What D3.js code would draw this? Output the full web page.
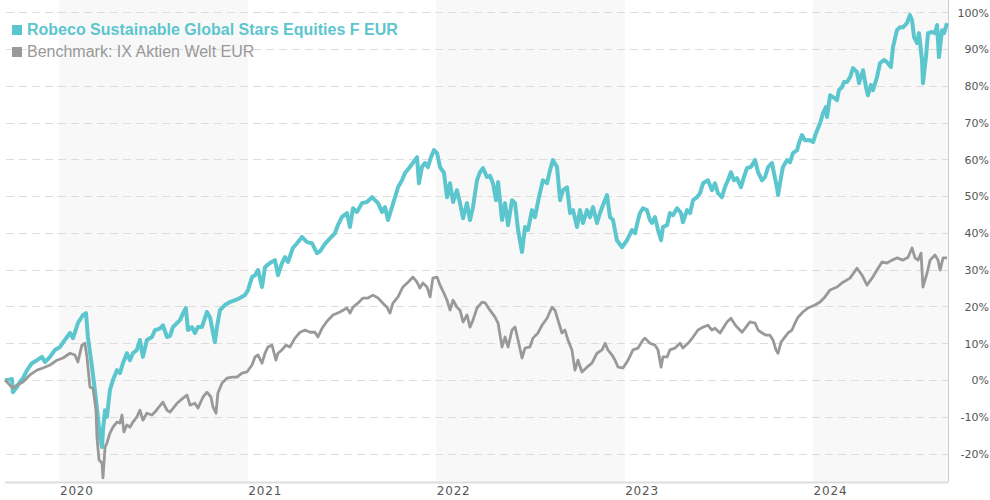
<!DOCTYPE html>
<html><head><meta charset="utf-8">
<script src="https://cdn.jsdelivr.net/npm/d3@7"></script>
<style>html,body{margin:0;padding:0;background:#fff;} svg{display:block;}</style>
</head><body><svg id="chart" width="990" height="500"></svg>
<script>
// ---- data ----
const seriesNames = ["Robeco Sustainable Global Stars Equities F EUR", "Benchmark: IX Aktien Welt EUR"];
const yearTicks = [2020, 2021, 2022, 2023, 2024];
const yearLabels = ["2020", "2021", "2022", "2023", "2024"];
const shadedYears = [2020, 2022, 2024];
const yTicks = [-20, -10, 0, 10, 20, 30, 40, 50, 60, 70, 80, 90, 100];
const timeDomain = [2019.711, 2024.716];
const valueDomain = [-27.7, 103.3];

// time in decimal years
const fundTime = [2019.711,2019.721,2019.748,2019.753,2019.774,2019.790,2019.806,2019.828,2019.854,2019.881,
2019.907,2019.923,2019.950,2019.976,2020.003,2020.029,2020.056,2020.072,2020.098,2020.125,
2020.141,2020.151,2020.173,2020.188,2020.204,2020.215,2020.226,2020.231,2020.242,2020.252,
2020.268,2020.284,2020.305,2020.321,2020.337,2020.358,2020.374,2020.390,2020.411,2020.427,
2020.443,2020.464,2020.491,2020.507,2020.533,2020.549,2020.571,2020.587,2020.602,2020.624,
2020.640,2020.656,2020.671,2020.682,2020.703,2020.719,2020.735,2020.756,2020.783,2020.799,
2020.815,2020.825,2020.836,2020.852,2020.878,2020.905,2020.932,2020.958,2020.985,2021.001,
2021.022,2021.038,2021.054,2021.075,2021.091,2021.117,2021.144,2021.160,2021.181,2021.197,
2021.213,2021.239,2021.261,2021.287,2021.314,2021.340,2021.367,2021.383,2021.409,2021.436,
2021.462,2021.478,2021.499,2021.526,2021.542,2021.558,2021.579,2021.606,2021.632,2021.659,
2021.675,2021.691,2021.712,2021.728,2021.744,2021.765,2021.781,2021.797,2021.818,2021.834,
2021.860,2021.887,2021.898,2021.908,2021.924,2021.940,2021.956,2021.972,2021.988,2022.004,
2022.020,2022.041,2022.057,2022.073,2022.089,2022.110,2022.126,2022.142,2022.163,2022.179,
2022.195,2022.216,2022.232,2022.248,2022.269,2022.285,2022.301,2022.317,2022.328,2022.349,
2022.365,2022.381,2022.402,2022.418,2022.434,2022.455,2022.471,2022.487,2022.508,2022.524,
2022.545,2022.566,2022.588,2022.604,2022.619,2022.641,2022.657,2022.673,2022.694,2022.710,
2022.726,2022.747,2022.763,2022.779,2022.800,2022.816,2022.832,2022.853,2022.869,2022.885,
2022.906,2022.922,2022.938,2022.959,2022.986,2023.012,2023.039,2023.055,2023.071,2023.081,
2023.097,2023.118,2023.134,2023.145,2023.161,2023.177,2023.193,2023.203,2023.225,2023.240,
2023.256,2023.278,2023.299,2023.309,2023.331,2023.347,2023.363,2023.384,2023.400,2023.416,
2023.442,2023.463,2023.479,2023.495,2023.516,2023.532,2023.548,2023.564,2023.580,2023.596,
2023.617,2023.633,2023.649,2023.670,2023.692,2023.708,2023.729,2023.745,2023.761,2023.782,
2023.792,2023.808,2023.814,2023.830,2023.840,2023.862,2023.877,2023.893,2023.915,2023.925,
2023.941,2023.957,2023.984,2024.000,2024.015,2024.037,2024.053,2024.068,2024.074,2024.090,
2024.106,2024.127,2024.137,2024.153,2024.164,2024.180,2024.196,2024.212,2024.233,2024.244,
2024.265,2024.281,2024.291,2024.307,2024.318,2024.339,2024.355,2024.376,2024.392,2024.413,
2024.424,2024.445,2024.461,2024.477,2024.498,2024.514,2024.525,2024.536,2024.552,2024.562,
2024.578,2024.583,2024.599,2024.610,2024.631,2024.647,2024.658,2024.668,2024.684,2024.695,
2024.711];
const fundValues = [0,0.0,0.3,-3.3,-1.9,-0.5,0.5,2.7,4.6,5.4,
6.3,4.9,6.3,8.2,9.0,10.9,12.8,11.4,15.5,17.7,
18.2,11.7,3.5,-2.7,-10,-15.5,-18.2,-13.6,-8.2,-10,
-2.7,0,2.7,1.9,4.6,7.3,5.4,7.3,8.2,10.9,
6.3,10.9,11.7,13.6,14.0,14.9,11.7,12.0,14.4,15.5,
16.3,18.2,19.6,13.6,14.4,12.8,14.4,14.4,18.5,17.1,
12.8,10.3,14.4,19.0,20.4,21.2,21.7,22.3,23.1,24.5,
28.0,28.5,29.9,25.3,30.7,31.8,32.6,28.5,31.8,33.4,
32.1,35.9,37.2,38.9,37.5,37.2,34.5,35.0,37.0,38.5,
39.9,42.1,44.3,45.4,41.6,46.7,45.7,48.1,48.4,49.7,
48.9,48.1,45.7,47.0,43.5,47.0,49.7,52.4,54.3,56.3,
57.9,59.8,60.6,53.5,57.9,59.0,57.9,60.6,62.5,61.7,
57.9,56.3,49.7,53.5,48.4,51.6,48.1,44.0,48.1,43.5,
47.0,54.3,56.5,57.6,55.2,55.5,53.5,48.9,53.8,43.5,
48.1,42.1,48.9,48.1,40.8,34.8,41.6,40.8,46.2,44.3,
49.7,54.3,53.5,57.1,59.8,57.9,48.9,51.6,52.4,45.4,
46.2,41.6,46.2,42.7,46.2,44.3,47.0,42.7,45.4,47.6,
50.3,44.3,43.5,38.0,36.1,38.0,40.8,39.9,43.5,45.4,
46.7,46.2,43.5,42.7,44.3,40.8,38.0,41.6,42.1,45.4,
44.8,46.7,45.4,42.9,46.2,45.4,48.9,49.7,50.8,53.5,
54.3,51.6,53.5,50.8,49.7,52.4,54.3,56.5,54.3,54.9,
52.4,55.2,57.6,57.9,59.8,56.5,54.3,55.2,57.9,59.0,
56.3,52.4,50.3,55.2,57.9,59.8,59.2,61.7,62.5,64.4,
66.6,65.2,65.2,64.7,67.1,69.8,72.6,74.2,71.5,77.4,
76.9,76.1,78.8,79.6,81.0,81.0,82.3,84.8,83.7,80.7,
84.2,79.6,77.4,80.2,78.8,82.3,86.1,87.0,86.4,85.1,
90.5,95.1,95.9,95.9,97.0,99.2,97.8,93.2,91.6,94.3,
87.0,80.7,87.8,94.3,94.6,94.3,96.5,87.8,95.1,94.3,
97.0];

const benchTime = [2019.711,2019.753,2019.774,2019.806,2019.843,2019.881,2019.912,2019.950,2019.987,2020.019,
2020.056,2020.082,2020.098,2020.119,2020.135,2020.146,2020.162,2020.178,2020.194,2020.199,
2020.210,2020.226,2020.231,2020.242,2020.252,2020.268,2020.284,2020.305,2020.321,2020.332,
2020.342,2020.358,2020.374,2020.390,2020.411,2020.427,2020.443,2020.464,2020.491,2020.507,
2020.523,2020.533,2020.549,2020.571,2020.587,2020.624,2020.656,2020.677,2020.693,2020.719,
2020.735,2020.762,2020.783,2020.804,2020.815,2020.831,2020.841,2020.863,2020.889,2020.916,
2020.942,2020.969,2020.995,2021.022,2021.038,2021.054,2021.075,2021.091,2021.107,2021.128,
2021.149,2021.160,2021.181,2021.202,2021.223,2021.250,2021.277,2021.303,2021.330,2021.356,
2021.372,2021.393,2021.420,2021.452,2021.489,2021.526,2021.542,2021.558,2021.584,2021.611,
2021.637,2021.664,2021.691,2021.717,2021.738,2021.754,2021.770,2021.797,2021.823,2021.850,
2021.876,2021.898,2021.913,2021.929,2021.951,2021.967,2021.982,2022.004,2022.020,2022.041,
2022.057,2022.073,2022.089,2022.110,2022.126,2022.142,2022.163,2022.179,2022.195,2022.216,
2022.243,2022.259,2022.285,2022.312,2022.328,2022.349,2022.365,2022.381,2022.402,2022.418,
2022.434,2022.455,2022.471,2022.497,2022.513,2022.540,2022.561,2022.588,2022.614,2022.630,
2022.646,2022.667,2022.683,2022.699,2022.720,2022.736,2022.752,2022.773,2022.800,2022.826,
2022.853,2022.880,2022.896,2022.911,2022.933,2022.949,2022.965,2022.991,2023.018,2023.044,
2023.071,2023.097,2023.108,2023.134,2023.161,2023.177,2023.193,2023.203,2023.225,2023.240,
2023.267,2023.294,2023.309,2023.336,2023.363,2023.389,2023.416,2023.442,2023.463,2023.479,
2023.506,2023.522,2023.543,2023.564,2023.580,2023.596,2023.623,2023.644,2023.665,2023.692,
2023.708,2023.729,2023.750,2023.771,2023.787,2023.803,2023.814,2023.830,2023.846,2023.867,
2023.888,2023.904,2023.920,2023.946,2023.973,2024.010,2024.037,2024.063,2024.090,2024.127,
2024.159,2024.196,2024.233,2024.260,2024.286,2024.313,2024.339,2024.366,2024.392,2024.419,
2024.445,2024.477,2024.504,2024.525,2024.541,2024.557,2024.573,2024.583,2024.605,2024.621,
2024.647,2024.663,2024.674,2024.690,2024.711];
const benchValues = [0,-2.2,-1.4,-0.5,1.4,2.7,3.3,4.1,5.4,6.0,
7.3,6.8,4.9,9.5,10.0,6.3,-1.9,-2.2,-8.2,-15.5,
-21.7,-22.6,-26.6,-18.2,-17.1,-14.4,-12.8,-11.4,-11.7,-9.5,
-14.1,-12.2,-12.8,-11.4,-10.0,-8.2,-10.9,-9.0,-9.5,-8.7,
-7.6,-7.0,-6.0,-8.2,-8.7,-6.3,-4.9,-4.1,-6.8,-6.3,
-7.6,-4.6,-3.3,-4.6,-7.3,-9.0,-3.5,-0.8,0.5,0.8,
0.8,1.9,2.2,4.1,6.3,6.8,4.6,7.3,9.0,9.5,
5.4,7.3,8.2,9.5,9.0,11.4,13.0,13.6,13.0,13.0,
11.7,14.0,16.0,17.7,18.5,19.6,18.2,19.8,20.9,22.3,
22.3,23.1,22.3,20.9,19.8,18.2,20.9,22.6,25.3,26.6,
28.0,26.6,25.0,26.4,25.3,22.6,27.7,28.0,25.8,23.6,
21.7,19.0,21.7,19.8,19.0,15.8,17.7,14.4,16.3,19.6,
21.2,21.0,19.0,17.1,15.5,9.0,11.7,9.0,13.6,14.4,
10.9,6.0,8.7,9.0,11.4,12.8,14.9,16.8,19.8,19.0,
16.3,12.8,13.6,10.9,8.2,2.7,5.4,2.2,3.5,4.6,
7.3,8.2,10.0,8.2,6.8,5.4,3.5,3.3,5.4,8.2,
8.7,10.9,11.4,10.0,9.5,8.2,3.5,6.3,6.3,8.2,
8.7,10.0,8.7,10.0,11.7,13.6,14.4,14.9,13.6,14.1,
12.8,14.1,15.8,16.8,15.5,14.4,13.0,14.4,15.8,15.5,
13.6,12.8,12.2,12.2,10.9,8.2,7.3,10.3,11.4,12.8,
13.6,15.5,17.1,18.5,19.6,20.4,21.2,22.6,24.5,25.3,
26.6,27.7,30.4,28.5,25.8,27.7,29.9,32.1,31.8,32.6,
33.2,32.6,33.4,35.9,33.2,32.6,34.5,25.3,29.1,32.6,
34.0,32.6,29.9,33.2,33.2];

// ---- chart ----
const fundColor = "#5cc6ce", benchColor = "#999999";
const svg = d3.select("#chart");
const plotLeft = 5, plotRight = 948, plotTop = 0, plotBottom = 482;
const x = d3.scaleLinear().domain(timeDomain).range([plotLeft, plotRight]);
const y = d3.scaleLinear().domain(valueDomain).range([plotBottom, plotTop]);

// shaded alternate years
svg.append("g").selectAll("rect").data(shadedYears).join("rect")
  .attr("x", d => x(Math.max(d, timeDomain[0])))
  .attr("width", d => x(Math.min(d + 1, timeDomain[1])) - x(Math.max(d, timeDomain[0])))
  .attr("y", plotTop).attr("height", plotBottom - plotTop)
  .attr("fill", "#f8f8f8");

// gridlines
svg.append("g").selectAll("line").data(yTicks).join("line")
  .attr("x1", plotLeft + 1).attr("x2", plotRight)
  .attr("y1", d => Math.round(y(d)) + 0.5).attr("y2", d => Math.round(y(d)) + 0.5)
  .attr("stroke", "#dddddd").attr("stroke-width", 1).attr("stroke-dasharray", "8,5");

// y axis on the right
const yAxis = svg.append("g").attr("transform", `translate(${plotRight},0)`)
  .call(d3.axisRight(y).tickValues(yTicks).tickSize(0).tickFormat(d => d + "%"));
yAxis.select(".domain").remove();
yAxis.selectAll("text")
  .attr("x", 989 - plotRight).attr("text-anchor", "end").attr("dy", "0.35em")
  .attr("fill", "#555").style("font-family", "'DejaVu Sans', Verdana, sans-serif").style("font-size", "11px");

svg.append("line").attr("x1", plotRight + 0.5).attr("x2", plotRight + 0.5).attr("y1", plotTop).attr("y2", plotBottom)
  .attr("stroke", "#cccccc").attr("stroke-width", 1);

// x axis
const xAxis = svg.append("g").attr("transform", `translate(0,${plotBottom})`)
  .call(d3.axisBottom(x).tickValues(yearTicks).tickSize(0).tickFormat((d, i) => yearLabels[i]));
xAxis.select(".domain").remove();
xAxis.selectAll("text")
  .attr("text-anchor", "start").attr("y", 4)
  .attr("fill", "#555").style("font-family", "'DejaVu Sans', Verdana, sans-serif").style("font-size", "12px")
  .style("letter-spacing", "0.8px");
svg.append("line").attr("x1", plotLeft).attr("x2", plotRight).attr("y1", plotBottom + 0.5).attr("y2", plotBottom + 0.5)
  .attr("stroke", "#dddddd").attr("stroke-width", 2);

// lines
const line = d3.line().x(d => x(d[0])).y(d => y(d[1]));
svg.append("path").datum(d3.zip(fundTime, fundValues))
  .attr("d", line).attr("fill", "none").attr("stroke", fundColor)
  .attr("stroke-width", 4).attr("stroke-linejoin", "round");
svg.append("path").datum(d3.zip(benchTime, benchValues))
  .attr("d", line).attr("fill", "none").attr("stroke", benchColor)
  .attr("stroke-width", 2.8).attr("stroke-linejoin", "round");

// legend
const legend = svg.append("g").style("font-family", "'Liberation Sans', Arial, sans-serif").style("font-size", "16px");
const legendItems = [
  { name: seriesNames[0], color: fundColor, weight: "bold", ly: 35 },
  { name: seriesNames[1], color: benchColor, weight: "normal", ly: 57 }
];
legendItems.forEach(it => {
  legend.append("rect").attr("x", 12).attr("y", it.ly - 10).attr("width", 10).attr("height", 10).attr("fill", it.color);
  legend.append("text").attr("x", 27).attr("y", it.ly).attr("fill", it.color)
    .style("font-weight", it.weight).text(it.name);
});
</script>
</body></html>
